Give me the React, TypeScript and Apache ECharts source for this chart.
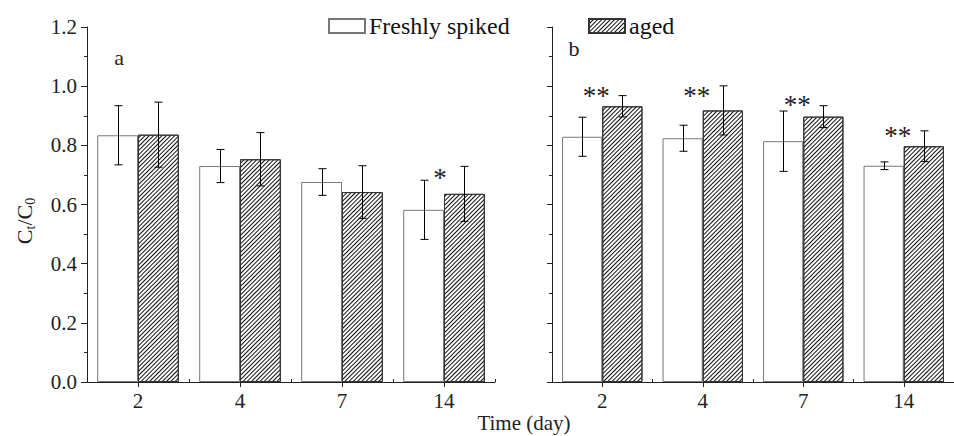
import React, { useEffect, useRef } from "react";
import * as echarts from "echarts";

const categories = ["2", "4", "7", "14"];
const leftFresh = [0.834, 0.730, 0.676, 0.582];
const leftFreshErr = [0.10, 0.056, 0.045, 0.10];
const leftAged = [0.836, 0.753, 0.642, 0.636];
const leftAgedErr = [0.11, 0.09, 0.089, 0.093];
const rightFresh = [0.829, 0.824, 0.814, 0.731];
const rightFreshErr = [0.066, 0.044, 0.102, 0.013];
const rightAged = [0.932, 0.918, 0.897, 0.797];
const rightAgedErr = [0.036, 0.083, 0.037, 0.052];
const leftMarkCats = [3];
const leftMarkY = [0.69];
const leftMarkText = ["*"];
const rightMarkCats = [0, 1, 2, 3];
const rightMarkY = [0.967, 0.967, 0.936, 0.832];
const rightMarkText = ["**", "**", "**", "**"];
const yTicks = { min: 0, max: 1.2, interval: 0.2 };

const FONT = "'Liberation Serif', 'Times New Roman', serif";
const AXIS = "#222";

export default function App() {
  const ref = useRef<HTMLDivElement>(null);
  useEffect(() => {
    if (!ref.current) return;
    const chart = echarts.init(ref.current, null, { renderer: "svg" });
    const hatch = {
      symbol: "rect",
      symbolSize: 1,
      color: "#111",
      backgroundColor: "#fff",
      dashArrayX: [1, 0],
      dashArrayY: [1, 2],
      rotation: -Math.PI / 4,
    };
    const freshStyle = { color: "#fff", borderColor: "#777", borderWidth: 1 };
    const agedStyle = { color: "#fff", borderColor: "#333", borderWidth: 1, decal: hatch };

    const errSeries = (grid: number, vals: number[], errs: number[], sign: number) => ({
      type: "custom",
      xAxisIndex: grid * 2,
      yAxisIndex: grid,
      z: 5,
      silent: true,
      data: vals.map((v, i) => [i, v - errs[i], v + errs[i]]),
      renderItem: (params: any, api: any) => {
        const band = api.size([1, 0])[0];
        const barW = (band * 0.8) / 2;
        const lo = api.coord([api.value(0), api.value(1)]);
        const hi = api.coord([api.value(0), api.value(2)]);
        const x = Math.round(lo[0] + (sign * barW) / 2) + 0.5;
        const cap = 4;
        const st = { stroke: "#000", lineWidth: 1 };
        return {
          type: "group",
          children: [
            { type: "line", shape: { x1: x, y1: lo[1], x2: x, y2: hi[1] }, style: st },
            { type: "line", shape: { x1: x - cap, y1: lo[1], x2: x + cap, y2: lo[1] }, style: st },
            { type: "line", shape: { x1: x - cap, y1: hi[1], x2: x + cap, y2: hi[1] }, style: st },
          ],
        };
      },
    });

    const markSeries = (grid: number, cats: number[], ys: number[], texts: string[]) => ({
      type: "custom",
      xAxisIndex: grid * 2,
      yAxisIndex: grid,
      z: 6,
      silent: true,
      data: cats.map((c, i) => [c, ys[i], i]),
      renderItem: (params: any, api: any) => {
        const p = api.coord([api.value(0), api.value(1)]);
        const t = texts[api.value(2)];
        return {
          type: "text",
          x: p[0] + (t.length > 1 ? -6 : -4),
          y: p[1],
          style: {
            text: t,
            fill: "#222",
            fontSize: 27,
            fontFamily: FONT,
            align: "center",
            verticalAlign: "middle",
          },
        };
      },
    });

    const mkX = (grid: number, main: boolean) => ({
      type: "category",
      gridIndex: grid,
      data: categories,
      axisLine: main ? { show: true, onZero: false, lineStyle: { color: AXIS, width: 1 } } : { show: false },
      axisTick: main
        ? { show: true, alignWithLabel: true, inside: false, length: 5, lineStyle: { color: AXIS } }
        : { show: true, alignWithLabel: false, inside: false, length: 3, lineStyle: { color: AXIS } },
      axisLabel: main
        ? { show: true, fontSize: 21, fontFamily: FONT, color: "#222", margin: 8 }
        : { show: false },
      splitLine: { show: false },
    });

    const mkY = (grid: number, labels: boolean) => ({
      type: "value",
      gridIndex: grid,
      min: yTicks.min,
      max: yTicks.max,
      interval: yTicks.interval,
      axisLine: { show: true, lineStyle: { color: AXIS, width: 1 } },
      axisTick: { show: true, length: labels ? 6 : 5, lineStyle: { color: AXIS } },
      minorTick: { show: true, splitNumber: 2, length: 3, lineStyle: { color: AXIS } },
      axisLabel: {
        show: labels,
        fontSize: 21,
        fontFamily: FONT,
        color: "#222",
        margin: 10,
        formatter: (v: number) => v.toFixed(1),
      },
      splitLine: { show: false },
    });

    const legendBase = {
      top: 9,
      icon: "rect",
      itemWidth: 36,
      itemHeight: 14,
      itemGap: 4,
      textStyle: { fontSize: 24, fontFamily: FONT, color: "#111", padding: [0, 0, 0, -1] },
      selectedMode: false,
    };

    chart.setOption({
      animation: false,
      backgroundColor: "#fff",
      grid: [
        { left: 87, top: 27, width: 408, height: 355 },
        { left: 552, top: 27, width: 409, height: 355 },
      ],
      legend: [
        { ...legendBase, data: ["Freshly spiked"], left: 323 },
        { ...legendBase, data: ["aged"], left: 583 },
      ],
      xAxis: [mkX(0, true), mkX(0, false), mkX(1, true), mkX(1, false)],
      yAxis: [mkY(0, true), mkY(1, false)],
      series: [
        { name: "Freshly spiked", type: "bar", xAxisIndex: 0, yAxisIndex: 0, data: leftFresh, barGap: "0%", barCategoryGap: "20%", itemStyle: freshStyle },
        { name: "aged", type: "bar", xAxisIndex: 0, yAxisIndex: 0, data: leftAged, barGap: "0%", barCategoryGap: "20%", itemStyle: agedStyle },
        { name: "Freshly spiked", type: "bar", xAxisIndex: 2, yAxisIndex: 1, data: rightFresh, barGap: "0%", barCategoryGap: "20%", itemStyle: freshStyle },
        { name: "aged", type: "bar", xAxisIndex: 2, yAxisIndex: 1, data: rightAged, barGap: "0%", barCategoryGap: "20%", itemStyle: agedStyle },
        errSeries(0, leftFresh, leftFreshErr, -1),
        errSeries(0, leftAged, leftAgedErr, 1),
        errSeries(1, rightFresh, rightFreshErr, -1),
        errSeries(1, rightAged, rightAgedErr, 1),
        markSeries(0, leftMarkCats, leftMarkY, leftMarkText),
        markSeries(1, rightMarkCats, rightMarkY, rightMarkText),
      ],
      graphic: [
        { type: "text", x: 119, y: 57, style: { text: "a", fontSize: 22, fontFamily: FONT, fill: "#222", align: "center", verticalAlign: "middle" } },
        { type: "text", x: 574, y: 48, style: { text: "b", fontSize: 22, fontFamily: FONT, fill: "#222", align: "center", verticalAlign: "middle" } },
        { type: "text", x: 524, y: 423, style: { text: "Time (day)", fontSize: 21, fontFamily: FONT, fill: "#222", align: "center", verticalAlign: "middle" } },
        {
          type: "text",
          x: 24,
          y: 221,
          rotation: Math.PI / 2,
          style: {
            text: "{c|C}{s|t}{c|/C}{s|0}",
            align: "center",
            verticalAlign: "middle",
            fill: "#222",
            rich: {
              c: { fontSize: 22, fontFamily: FONT, fill: "#222", lineHeight: 26 },
              s: { fontSize: 14, fontFamily: FONT, fill: "#222", lineHeight: 26, padding: [12, 0, 0, 0] },
            },
          },
        },
      ],
    });
    return () => chart.dispose();
  }, []);
  return <div ref={ref} style={{ position: "absolute", left: 0, top: 0, width: 954, height: 436 }} />;
}
